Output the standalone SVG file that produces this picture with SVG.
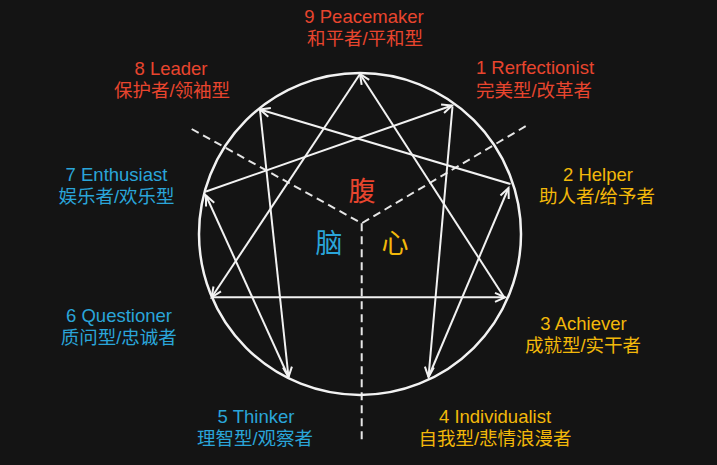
<svg xmlns="http://www.w3.org/2000/svg" width="717" height="465" viewBox="0 0 717 465">
  <style>
    .t { font-family: "Liberation Sans", "Noto Sans CJK SC", sans-serif; font-size: 18.5px; text-anchor: middle; }
    .red { fill: #e8452e; }
    .blue { fill: #2aa5d9; }
    .yel { fill: #f2b80a; }
    .ln { stroke: #f2f2f2; stroke-width: 2; fill: none; marker-end: url(#arr); }
    .dash { stroke: #e6e6e6; stroke-width: 2; stroke-dasharray: 8 5; fill: none; }
    .big { font-family: "Noto Sans CJK SC", sans-serif; font-size: 27px; text-anchor: middle; }
  </style>
  <defs>
    <marker id="arr" markerUnits="userSpaceOnUse" markerWidth="14" markerHeight="14" viewBox="-12 -7 14 14" refX="0" refY="0" orient="auto">
      <path d="M-10,-4.5 L0,0 L-10,4.5" stroke="#f2f2f2" stroke-width="2" fill="none" stroke-linejoin="miter"/>
    </marker>
  </defs>
  <rect width="717" height="465" fill="#141414"/>

  <g id="guides">
    <path class="dash" d="M191.7,129 L361.7,223.3 L526,126"/>
    <path class="dash" d="M361.7,223.3 L361.7,440"/>
  </g>

  <g id="ring">
    <circle cx="360" cy="234" r="161" fill="none" stroke="#f2f2f2" stroke-width="2.5"/>
  </g>

  <g id="connectors">
    <line class="ln" x1="452.5" y1="106.5" x2="428.5" y2="377"/>
    <line class="ln" x1="428.5" y1="377" x2="508.5" y2="188"/>
    <line class="ln" x1="510.5" y1="184" x2="260" y2="109.5"/>
    <line class="ln" x1="260" y1="110" x2="288.5" y2="377"/>
    <line class="ln" x1="288.5" y1="377" x2="206" y2="195.5"/>
    <line class="ln" x1="206" y1="191.5" x2="452" y2="105.5"/>
    <line class="ln" x1="360" y1="74" x2="211.7" y2="297.3"/>
    <line class="ln" x1="212" y1="297.3" x2="505" y2="297.3"/>
    <line class="ln" x1="504" y1="297" x2="360" y2="74"/>
  </g>

  <g id="type9">
    <text class="t red" x="364" y="22.5">9 Peacemaker</text>
    <text class="t red" x="365" y="45">和平者/平和型</text>
  </g>
  <g id="type8">
    <text class="t red" x="171" y="74.5">8 Leader</text>
    <text class="t red" x="172" y="97">保护者/领袖型</text>
  </g>
  <g id="type1">
    <text class="t red" x="535" y="74">1 Rerfectionist</text>
    <text class="t red" x="534" y="97">完美型/改革者</text>
  </g>
  <g id="type7">
    <text class="t blue" x="116.5" y="180.5">7 Enthusiast</text>
    <text class="t blue" x="116.5" y="202.5">娱乐者/欢乐型</text>
  </g>
  <g id="type2">
    <text class="t yel" x="598" y="180.5">2 Helper</text>
    <text class="t yel" x="597" y="202.5">助人者/给予者</text>
  </g>
  <g id="type6">
    <text class="t blue" x="119" y="321.5">6 Questioner</text>
    <text class="t blue" x="118.7" y="343.5">质问型/忠诚者</text>
  </g>
  <g id="type3">
    <text class="t yel" x="583.5" y="330">3 Achiever</text>
    <text class="t yel" x="583" y="352">成就型/实干者</text>
  </g>
  <g id="type5">
    <text class="t blue" x="256" y="423">5 Thinker</text>
    <text class="t blue" x="255" y="445">理智型/观察者</text>
  </g>
  <g id="type4">
    <text class="t yel" x="495" y="423">4 Individualist</text>
    <text class="t yel" x="495" y="445">自我型/悲情浪漫者</text>
  </g>

  <g id="centers">
    <text class="big red" x="362" y="201">腹</text>
    <text class="big blue" x="329" y="253">脑</text>
    <text class="big yel" x="395" y="253">心</text>
  </g>
</svg>
